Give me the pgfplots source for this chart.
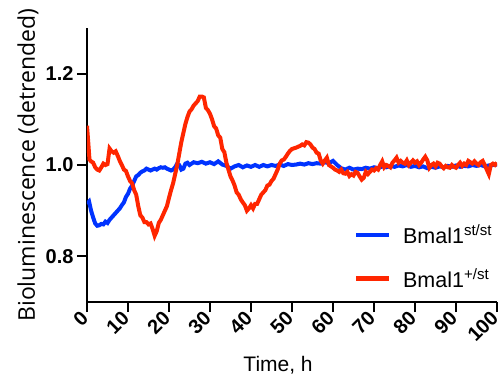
\documentclass[border=0pt]{standalone}
\usepackage{fontspec}
\setmainfont{Liberation Sans}
\newfontfamily\ylabfont{Open Sans}
\usepackage{pgfplots}
\pgfplotsset{compat=1.18}
\definecolor{cblue}{RGB}{0,51,255}
\definecolor{cred}{RGB}{255,38,0}
\begin{document}
\begin{tikzpicture}
\begin{axis}[
  scale only axis, width=410pt, height=274pt,
  at={(0,0)}, anchor=south west,
  xmin=0, xmax=100, ymin=0.7, ymax=1.3,
  axis lines*=left,
  axis line style={line width=2.2pt},
  tick style={line width=2.2pt, black},
  tick align=outside, major tick length=10pt,
  xtick={0,10,...,100}, ytick={0.8,1.0,1.2},
  /pgf/number format/assume math mode=true,
  yticklabel style={/pgf/number format/fixed, /pgf/number format/fixed zerofill, /pgf/number format/precision=1, font=\bfseries\fontsize{20}{20}\selectfont},
  xticklabel style={rotate=45, anchor=east, font=\bfseries\fontsize{20}{20}\selectfont},
  xlabel={Time, h},
  xlabel style={at={(axis description cs:0.466,-0.252)}, anchor=base, font=\fontsize{21}{21}\selectfont},
  ylabel={Bioluminescence (detrended)},
  ylabel style={at={(axis description cs:-0.127,0.5)}, anchor=base, font=\ylabfont\fontsize{23}{23}\selectfont},
  legend style={draw=none, fill=none, at={(axis description cs:0.643,0.297)}, anchor=north west,
    font=\fontsize{21.5}{21.5}\selectfont, row sep=20pt},
  legend cell align=left,
  legend image code/.code={\draw[#1, line width=4.5pt] (0pt,0pt) -- (33pt,0pt); \path (43pt,0pt);},
]
\addplot[cblue, line width=4pt] coordinates {
(0,0.915)(0.5,0.92)(1,0.9)(1.5,0.885)(2,0.872)(2.5,0.867)(3,0.868)(3.5,0.871)(4,0.87)(4.5,0.876)
(5,0.873)(5.5,0.88)(6,0.885)(6.5,0.89)(7,0.895)(7.5,0.9)(8,0.905)(8.5,0.912)(9,0.918)(9.5,0.93)
(10,0.937)(10.5,0.948)(11,0.955)(11.5,0.965)(12,0.975)(12.5,0.978)(13,0.983)(13.5,0.986)(14,0.988)(14.5,0.992)
(15,0.99)(15.5,0.988)(16,0.99)(16.5,0.992)(17,0.99)(17.5,0.993)(18,0.995)(18.5,0.994)(19,0.995)(19.5,0.992)
(20,0.99)(20.5,0.988)(21,0.99)(21.5,0.995)(22,1.003)(22.5,1.0)(23,0.99)(23.5,0.992)(24,1.003)(24.5,1.005)
(25,1.0)(26,1.006)(27,1.004)(28,1.007)(29,1.003)(30,1.006)(31,1.002)(32,1.008)(33,1.001)(34,0.998)
(35,0.992)(36,0.997)(37,1.0)(38,0.995)(39,0.999)(40,0.996)(41,1.0)(42,0.996)(43,1.0)(44,0.997)
(45,1.0)(46,0.998)(47,1.001)(48,0.998)(49,1.002)(50,1.0)(51,1.001)(52,1.003)(53,1.001)(54,1.004)
(55,1.002)(56,1.004)(57,1.003)(58,1.006)(59,1.004)(60,1.009)(61,1.0)(62,0.993)(63,0.99)(64,0.994)
(65,0.99)(66,0.992)(67,0.991)(68,0.994)(69,0.992)(70,0.995)(71,0.993)(72,0.997)(73,0.995)(74,0.998)
(75,0.996)(76,0.999)(77,0.997)(78,1.0)(79,0.996)(80,0.998)(81,0.995)(82,0.997)(83,0.993)(84,0.996)
(85,0.994)(86,0.997)(87,0.995)(88,0.998)(89,0.996)(90,0.999)(91,0.996)(92,0.998)(93,0.997)(94,1.0)
(95,0.998)(96,1.0)(97,0.997)(98,0.999)(99,1.0)(100,1.001)
};
\addlegendentry{Bmal1\textsuperscript{st/st}}
\addplot[cred, line width=4pt] coordinates {
(0,1.086)(0.3,1.05)(0.6,1.012)(1,1.008)(1.5,1.005)(2,0.995)(2.5,0.99)(3,0.988)(3.5,0.995)(4,1.003)
(4.5,1.0)(5,1.002)(5.5,1.036)(6,1.03)(6.5,1.027)(7,1.03)(7.5,1.02)(8,1.009)(8.5,1.0)(9,0.99)
(9.5,0.987)(10,0.975)(10.5,0.965)(11,0.96)(11.5,0.945)(12,0.935)(12.5,0.91)(13,0.89)(13.5,0.885)(14,0.875)
(14.5,0.875)(15,0.87)(15.5,0.872)(16,0.86)(16.5,0.845)(17,0.855)(17.5,0.873)(18,0.88)(18.5,0.89)(19,0.9)
(19.5,0.91)(20,0.928)(20.5,0.945)(21,0.96)(21.5,0.98)(22,1.0)(22.5,1.025)(23,1.05)(23.5,1.07)(24,1.09)
(24.5,1.105)(25,1.117)(25.5,1.122)(26,1.13)(26.5,1.135)(27,1.14)(27.5,1.15)(28,1.15)(28.5,1.148)(29,1.125)
(29.5,1.12)(30,1.112)(30.5,1.1)(31,1.085)(31.5,1.08)(32,1.065)(32.5,1.06)(33,1.035)(33.5,1.028)(34,1.005)
(34.5,0.99)(35,0.975)(35.5,0.966)(36,0.955)(36.5,0.94)(37,0.935)(37.5,0.925)(38,0.918)(38.5,0.912)(39,0.9)
(39.5,0.905)(40,0.912)(40.5,0.905)(41,0.915)(41.5,0.915)(42,0.925)(42.5,0.935)(43,0.94)(43.5,0.945)(44,0.955)
(44.5,0.957)(45,0.965)(45.5,0.97)(46,0.98)(46.5,0.99)(47,1.003)(47.5,1.01)(48,1.012)(48.5,1.018)(49,1.025)
(49.5,1.031)(50,1.035)(51,1.038)(51.5,1.04)(52,1.042)(52.5,1.045)(53,1.043)(53.5,1.05)(54,1.049)(54.5,1.045)
(55,1.038)(55.5,1.035)(56,1.027)(56.5,1.025)(57,1.01)(57.5,1.003)(58,1.01)(58.5,1.016)(59,1.0)(59.5,0.997)
(60,0.994)(60.5,0.99)(61,0.988)(61.5,0.985)(62,0.99)(62.5,0.982)(63,0.981)(63.5,0.985)(64,0.976)(64.5,0.98)
(65,0.977)(65.5,0.985)(66,0.983)(66.5,0.975)(67,0.968)(67.5,0.972)(68,0.985)(68.5,0.98)(69,0.985)(69.5,0.99)
(70,0.988)(70.5,0.993)(71,0.99)(71.5,1.0)(72,1.008)(72.5,0.995)(73,1.0)(73.5,0.998)(74,0.995)(74.5,1.005)
(75,1.01)(75.5,1.016)(76,1.005)(76.5,1.009)(77,1.005)(77.5,1.003)(78,1.01)(78.5,1.0)(79,1.005)(79.5,1.01)
(80,1.005)(80.5,1.008)(81,1.0)(81.5,1.005)(82,1.012)(82.5,1.018)(83,1.01)(83.5,0.994)(84,1.0)(84.5,1.003)
(85,0.997)(85.5,1.005)(86,1.003)(86.5,0.997)(87,0.993)(87.5,0.998)(88,0.995)(88.5,0.994)(89,1.0)(89.5,0.996)
(90,0.994)(90.5,1.0)(91,1.005)(91.5,0.998)(92,1.003)(92.5,1.0)(93,1.009)(93.5,1.006)(94,1.003)(94.5,1.008)
(95,1.003)(95.5,1.0)(96,1.006)(96.5,1.009)(97,1.0)(97.5,0.99)(98,0.98)(98.5,1.0)(99,1.003)(99.5,1.0)(100,1.005)
};
\addlegendentry{Bmal1\textsuperscript{+/st}}
\end{axis}
\pgfresetboundingbox
\path[use as bounding box] (-87pt,-74pt) rectangle (415pt,302pt);
\end{tikzpicture}
\end{document}
